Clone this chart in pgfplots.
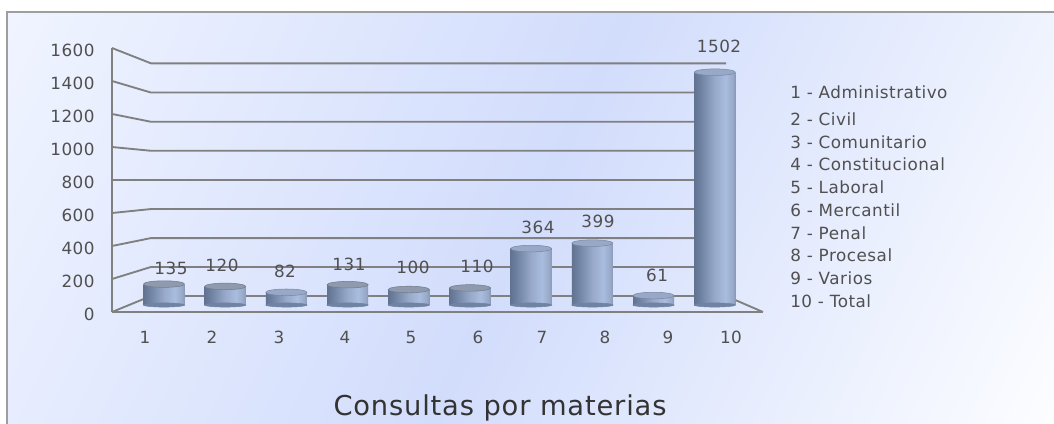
\documentclass[border=0pt]{standalone}
\usepackage{pgfplots}
\usepackage{pgfplotstable}
\usepackage{fontspec}
\pgfplotsset{compat=1.18}
\setmainfont[LetterSpace=3]{DejaVu Sans}

\definecolor{gridgray}{HTML}{808081}
\definecolor{textgray}{HTML}{505050}
\definecolor{bgA}{HTML}{F0F4FF}
\definecolor{bgB}{HTML}{D2DDFC}
\definecolor{bgC}{HTML}{FCFDFF}
\definecolor{cylA}{HTML}{627391}
\definecolor{cylB}{HTML}{7083A2}
\definecolor{cylC}{HTML}{98A9CA}
\definecolor{cylD}{HTML}{A9BDDF}
\definecolor{cylE}{HTML}{98A9C8}
\definecolor{cylF}{HTML}{8898B5}

% background and bar shadings
\pgfdeclarehorizontalshading{bgdiag}{100bp}{
  color(0bp)=(bgA); color(16.7bp)=(bgA); color(50bp)=(bgB); color(83.3bp)=(bgC); color(100bp)=(bgC)}
\pgfdeclarehorizontalshading{cyl}{100bp}{
  color(0bp)=(cylA); color(25bp)=(cylA); color(33bp)=(cylB); color(50bp)=(cylC);
  color(63bp)=(cylD); color(72bp)=(cylE); color(75bp)=(cylF); color(100bp)=(cylF)}

% lx, ly: where the value label sits
\pgfplotstableread{
x val base lx ly
1 135 0 1.114 235.6
2 120 0 1.948 258
3 82 0 2.977 219.4
4 131 0 4.023 264.5
5 100 0 5.069 245.2
6 110 0 6.114 251.9
7 364 0 7.111 503.4
8 399 0 8.092 542.2
9 61 0 9.056 193.3
10 1502 0 10.069 1671
}\consultas

\begin{document}
\begin{tikzpicture}[x=0.75pt,y=-0.75pt]
\useasboundingbox (0,0) rectangle (1054,424);
\shade[shading=bgdiag,shading angle=-25.5] (7,12) rectangle (1054,424);
\draw[color=black!38,line width=1.1pt] (7,424) -- (7,12) -- (1054,12);

% walls: x in pixels, y on the front scale
\begin{axis}[
  at={(84pt,-234pt)}, anchor=origin,
  scale only axis, width=488.25pt, height=198pt,
  xmin=112, xmax=763, ymin=0, ymax=1600,
  clip=false,
  axis x line=bottom, axis y line=left,
  axis line style={color=gridgray,line width=1.4pt,-},
  xtick={145,212,279,345,411,478,542,605,668,731},
  xticklabels={1,2,3,4,5,6,7,8,9,10},
  ytick={0,200,...,1600},
  major tick length=0pt,
  tick label style={font=\fontsize{12.6pt}{14pt}\selectfont,text=textgray},
  xticklabel style={yshift=-11pt},
  yticklabel style={xshift=-9.5pt,yshift=-1.5pt},
  /pgf/number format/1000 sep={},
  /pgf/number format/assume math mode=true,
]
\addplot[gridgray,line width=1.4pt] coordinates {(112,1600) (151,1507) (726,1507)};
\addplot[gridgray,line width=1.4pt] coordinates {(112,1400) (151,1330) (726,1330)};
\addplot[gridgray,line width=1.4pt] coordinates {(112,1200) (151,1153) (726,1153)};
\addplot[gridgray,line width=1.4pt] coordinates {(112,1000) (151,977) (726,977)};
\addplot[gridgray,line width=1.4pt] coordinates {(112,800) (151,800) (726,800)};
\addplot[gridgray,line width=1.4pt] coordinates {(112,600) (151,624) (726,624)};
\addplot[gridgray,line width=1.4pt] coordinates {(112,400) (151,448) (726,448)};
\addplot[gridgray,line width=1.4pt] coordinates {(112,200) (151,273) (726,273)};
\addplot[gridgray,line width=1.4pt] coordinates {(112,0) (151,97) (726,97) (763,0)};
\end{axis}

% cylinders
\begin{axis}[
  at={(100.05pt,-228.75pt)}, anchor=origin,
  scale only axis, width=459pt, height=186pt,
  xmin=0.5, xmax=10.5, ymin=0, ymax=1600,
  clip=false, hide axis,
  barcyl/.style={ybar,bar width=30.75pt,draw=none,shade,shading=cyl},
  topcyl/.style={only marks,mark=*,mark size=15.4pt,
    mark options={yscale=0.16,draw=#1!80!black,fill=#1,line width=0.4pt}},
]
\addplot[only marks,mark=*,mark size=15.4pt,
  mark options={yscale=0.1,draw=cylB,fill=cylB}] table[x=x,y=base] {\consultas};
% one plot per bar, so that each gets its own shading
\addplot[barcyl] coordinates {(1,135)};
\addplot[barcyl] coordinates {(2,120)};
\addplot[barcyl] coordinates {(3,82)};
\addplot[barcyl] coordinates {(4,131)};
\addplot[barcyl] coordinates {(5,100)};
\addplot[barcyl] coordinates {(6,110)};
\addplot[barcyl] coordinates {(7,364)};
\addplot[barcyl] coordinates {(8,399)};
\addplot[barcyl] coordinates {(9,61)};
\addplot[barcyl] coordinates {(10,1502)};
\addplot[topcyl=cylE] coordinates {(3,82) (7,364) (8,399) (9,61) (10,1502)};
\addplot[topcyl=gray!35!cylE] coordinates {(1,135) (2,120) (4,131) (5,100) (6,110)};
\addplot[only marks,mark=none,point meta=explicit,
  nodes near coords,
  nodes near coords style={anchor=center,
    font=\fontsize{12.6pt}{14pt}\selectfont,text=textgray,
    /pgf/number format/1000 sep={},/pgf/number format/assume math mode=true},
] table[x=lx,y=ly,meta=val] {\consultas};
\end{axis}

% legend and title
\begin{scope}[every node/.style={anchor=base west,inner sep=0pt,text=textgray,
    font=\fontsize{12.6pt}{14pt}\selectfont}]
\node at (790,98.5) {1 - Administrativo};
\node at (790,125.5) {2 - Civil};
\node at (790,148.5) {3 - Comunitario};
\node at (790,170.5) {4 - Constitucional};
\node at (790,193.5) {5 - Laboral};
\node at (790,216.5) {6 - Mercantil};
\node at (790,239.5) {7 - Penal};
\node at (790,261.5) {8 - Procesal};
\node at (790,284.5) {9 - Varios};
\node at (790,307.5) {10 - Total};
\end{scope}
\node[anchor=base,inner sep=0pt,text=black!80,font=\fontsize{20.5pt}{22pt}\selectfont] at (500,415) {Consultas por materias};
\end{tikzpicture}
\end{document}
